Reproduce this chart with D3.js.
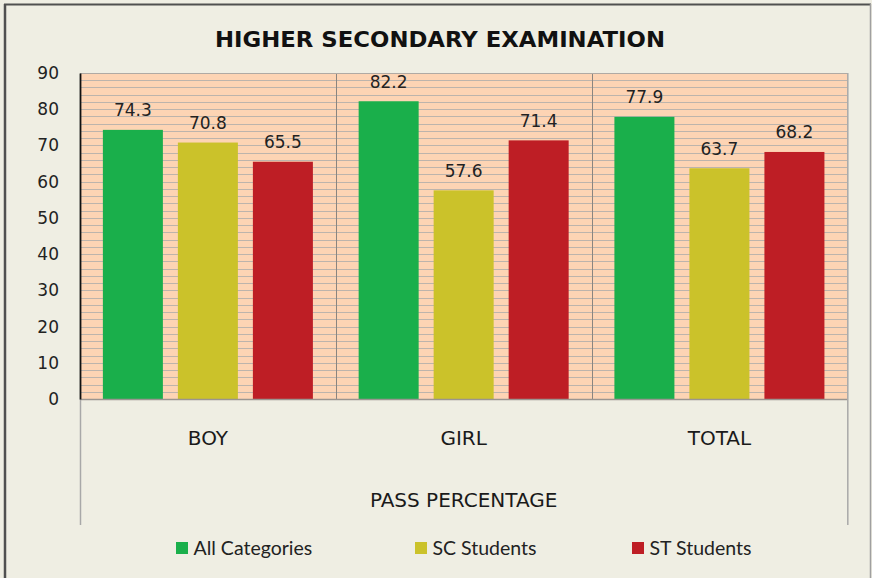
<!DOCTYPE html>
<html>
<head>
<meta charset="utf-8">
<script src="https://cdn.jsdelivr.net/npm/d3@7"></script>
<style>
html,body{margin:0;padding:0;background:#efeee3;}
svg{display:block;}
</style>
</head>
<body>
<svg id="chart" width="872" height="578"></svg>
<script>
const categories = ["BOY", "GIRL", "TOTAL"];
const seriesNames = ["All Categories", "SC Students", "ST Students"];
const allCategories = [74.3, 82.2, 77.9];
const scStudents = [70.8, 57.6, 63.7];
const stStudents = [65.5, 71.4, 68.2];
const yTicks = [0, 10, 20, 30, 40, 50, 60, 70, 80, 90];
const title = "HIGHER SECONDARY EXAMINATION";
const axisTitle = "PASS PERCENTAGE";

const colors = ["#1aaf4b", "#cbc22a", "#be1e25"];
const seriesValues = [allCategories, scStudents, stStudents];

const svg = d3.select("#chart");
const W = 872, H = 578;
const plot = {left: 80, right: 847.3, top: 73, bottom: 399};

// outer frame
svg.append("rect").attr("x", 0).attr("y", 0).attr("width", W).attr("height", H).attr("fill", "#efeee3");
svg.append("line").attr("x1", 4).attr("x2", 871).attr("y1", 4.5).attr("y2", 4.5).attr("stroke", "#505050").attr("stroke-width", 2);
svg.append("line").attr("x1", 5).attr("x2", 5).attr("y1", 4).attr("y2", 578).attr("stroke", "#505050").attr("stroke-width", 2.5);
svg.append("line").attr("x1", 870.5).attr("x2", 870.5).attr("y1", 4).attr("y2", 578).attr("stroke", "#a0a0a0").attr("stroke-width", 1.5);

const x0 = d3.scaleBand().domain(categories).range([plot.left, plot.right]).padding(0);
const x1 = d3.scaleBand().domain(seriesNames).range([0, x0.bandwidth()]).paddingInner(0.2).paddingOuter(0.305);
const y = d3.scaleLinear().domain([0, 90]).range([plot.bottom, plot.top]);

// plot background
svg.append("rect").attr("x", plot.left).attr("y", plot.top)
  .attr("width", plot.right - plot.left).attr("height", plot.bottom - plot.top)
  .attr("fill", "#fdd4b4");

// minor gridlines every 2
const gridVals = d3.range(0, 91, 2);
svg.append("g").selectAll("line").data(gridVals).join("line")
  .attr("x1", plot.left).attr("x2", plot.right)
  .attr("y1", d => Math.round(y(d)) + 0.5).attr("y2", d => Math.round(y(d)) + 0.5)
  .attr("stroke", "#bdb4ac").attr("stroke-width", 1);

// category separators
svg.append("g").selectAll("line").data(categories.slice(1)).join("line")
  .attr("x1", d => Math.round(x0(d)) + 0.5).attr("x2", d => Math.round(x0(d)) + 0.5)
  .attr("y1", plot.top).attr("y2", plot.bottom)
  .attr("stroke", "#8a8580").attr("stroke-width", 1);

// bars
const groups = svg.append("g").selectAll("g").data(categories).join("g")
  .attr("transform", d => `translate(${x0(d)},0)`);
groups.selectAll("rect").data((c, ci) => seriesNames.map((s, si) => ({s, si, v: seriesValues[si][ci]})))
  .join("rect")
  .attr("x", d => x1(d.s)).attr("width", x1.bandwidth())
  .attr("y", d => y(d.v)).attr("height", d => y(0) - y(d.v))
  .attr("fill", d => colors[d.si]);
groups.selectAll("text").data((c, ci) => seriesNames.map((s, si) => ({s, si, v: seriesValues[si][ci]})))
  .join("text")
  .attr("x", d => x1(d.s) + x1.bandwidth() / 2)
  .attr("y", d => y(d.v) - 13.5)
  .attr("text-anchor", "middle")
  .attr("font-family", "DejaVu Sans")
  .attr("font-size", 17)
  .attr("fill", "#222")
  .text(d => d.v.toFixed(1));

// plot borders
svg.append("line").attr("x1", plot.left).attr("x2", plot.right).attr("y1", plot.top + 0.5).attr("y2", plot.top + 0.5).attr("stroke", "#b0aaa4");
svg.append("line").attr("x1", plot.left).attr("x2", plot.right).attr("y1", plot.bottom + 0.5).attr("y2", plot.bottom + 0.5).attr("stroke", "#9a9590").attr("stroke-width", 1.5);
svg.append("line").attr("x1", plot.right + 0.5).attr("x2", plot.right + 0.5).attr("y1", plot.top).attr("y2", 525).attr("stroke", "#a8a8a8").attr("stroke-width", 1.5);
svg.append("line").attr("x1", plot.left + 0.5).attr("x2", plot.left + 0.5).attr("y1", plot.bottom).attr("y2", 525).attr("stroke", "#a8a8a8").attr("stroke-width", 1.5);

// y axis
const yAxis = d3.axisLeft(y).tickValues(yTicks).tickSize(0).tickPadding(21);
const gy = svg.append("g").attr("transform", `translate(${plot.left},0)`).call(yAxis);
gy.select(".domain").attr("stroke", "#111").attr("stroke-width", 1.8);
gy.selectAll("text").attr("font-family", "DejaVu Sans").attr("font-size", 17).attr("fill", "#222");

// category labels
svg.append("g").selectAll("text").data(categories).join("text")
  .attr("x", d => x0(d) + x0.bandwidth() / 2).attr("y", 445)
  .attr("text-anchor", "middle").attr("font-family", "DejaVu Sans").attr("font-size", 20).attr("fill", "#1a1a1a")
  .text(d => d);

svg.append("text").attr("x", (plot.left + plot.right) / 2).attr("y", 507)
  .attr("text-anchor", "middle").attr("font-family", "DejaVu Sans").attr("font-size", 20).attr("fill", "#1a1a1a")
  .text(axisTitle);

// title
svg.append("text").attr("x", 440).attr("y", 47).attr("text-anchor", "middle")
  .attr("font-family", "DejaVu Sans").attr("font-weight", "bold").attr("font-size", 22).attr("fill", "#111")
  .attr("textLength", 450).attr("lengthAdjust", "spacingAndGlyphs")
  .text(title);

// legend
const legendX = [176, 415, 632];
const lg = svg.append("g").selectAll("g").data(seriesNames).join("g")
  .attr("transform", (d, i) => `translate(${legendX[i]},542)`);
lg.append("rect").attr("width", 12).attr("height", 12).attr("fill", (d, i) => colors[i]);
lg.append("text").attr("x", 17.5).attr("y", 13)
  .attr("font-family", "Lato").attr("font-size", 19.5).attr("fill", "#222")
  .text(d => d);
</script>
</body>
</html>
